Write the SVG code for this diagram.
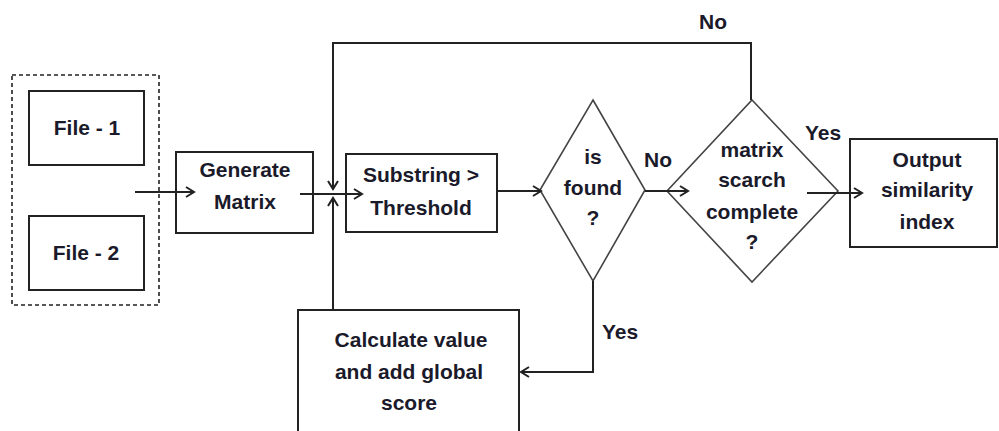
<svg xmlns="http://www.w3.org/2000/svg" width="999" height="431" viewBox="0 0 999 431">
<style>
.box{fill:#fff;stroke:#222;stroke-width:2}
.dia{fill:#fff;stroke:#444;stroke-width:1.6}
.ln{fill:none;stroke:#222;stroke-width:2}
text{font-family:"Liberation Sans",Arial,sans-serif;font-weight:bold;font-size:21px;fill:#1a1a2a;text-anchor:middle}
</style>
<defs>
<marker id="ah" markerWidth="12" markerHeight="12" refX="10" refY="6" orient="auto" markerUnits="userSpaceOnUse">
<path d="M2,1 L10,6 L2,11" fill="none" stroke="#222" stroke-width="2"/>
</marker>
</defs>
<rect width="999" height="431" fill="#fff"/>
<g id="input-group">
<rect x="12" y="75" width="147" height="230" fill="none" stroke="#222" stroke-width="1.6" stroke-dasharray="4,3"/>
</g>
<g id="file1">
<rect class="box" x="29" y="91" width="115" height="74"/>
<text x="87" y="135">File - 1</text>
</g>
<g id="file2">
<rect class="box" x="29" y="216" width="115" height="74"/>
<text x="86" y="260">File - 2</text>
</g>
<g id="generate">
<rect class="box" x="176" y="152" width="137" height="81"/>
<text x="245" y="177">Generate</text>
<text x="245" y="209">Matrix</text>
</g>
<g id="substring">
<rect class="box" x="346" y="154" width="151" height="78"/>
<text x="421" y="182">Substring &gt;</text>
<text x="421" y="215">Threshold</text>
</g>
<g id="isfound">
<polygon class="dia" points="593,100 645,190 593,281 540,190"/>
<text x="593" y="164">is</text>
<text x="593" y="195">found</text>
<text x="593" y="225">?</text>
</g>
<g id="complete">
<polygon class="dia" points="752,100 838,191 752,282 667,191"/>
<text x="752" y="157">matrix</text>
<text x="752" y="187">scarch</text>
<text x="752" y="219">complete</text>
<text x="752" y="249">?</text>
</g>
<g id="output">
<rect class="box" x="850" y="139" width="147" height="108"/>
<text x="927" y="167">Output</text>
<text x="927" y="197">similarity</text>
<text x="927" y="229">index</text>
</g>
<g id="calculate">
<rect class="box" x="298" y="310" width="221" height="130"/>
<text x="411" y="347">Calculate value</text>
<text x="409" y="379">and  add global</text>
<text x="409" y="410">score</text>
</g>
<g id="connectors">
<line class="ln" x1="135" y1="192" x2="194" y2="192" marker-end="url(#ah)"/>
<line class="ln" x1="300" y1="194" x2="362" y2="194" marker-end="url(#ah)"/>
<polyline class="ln" points="751,100 751,43 333,43 333,189" marker-end="url(#ah)"/>
<line class="ln" x1="333" y1="310" x2="333" y2="198" marker-end="url(#ah)"/>
<line class="ln" x1="497" y1="191" x2="541" y2="191" marker-end="url(#ah)"/>
<line class="ln" x1="645" y1="191" x2="688" y2="191" marker-end="url(#ah)"/>
<line class="ln" x1="807" y1="193" x2="862" y2="193" marker-end="url(#ah)"/>
<polyline class="ln" points="593,281 593,372 521,372" marker-end="url(#ah)"/>
<text x="713" y="29">No</text>
<text x="658" y="167">No</text>
<text x="823" y="140">Yes</text>
<text x="620" y="339">Yes</text>
</g>
</svg>
